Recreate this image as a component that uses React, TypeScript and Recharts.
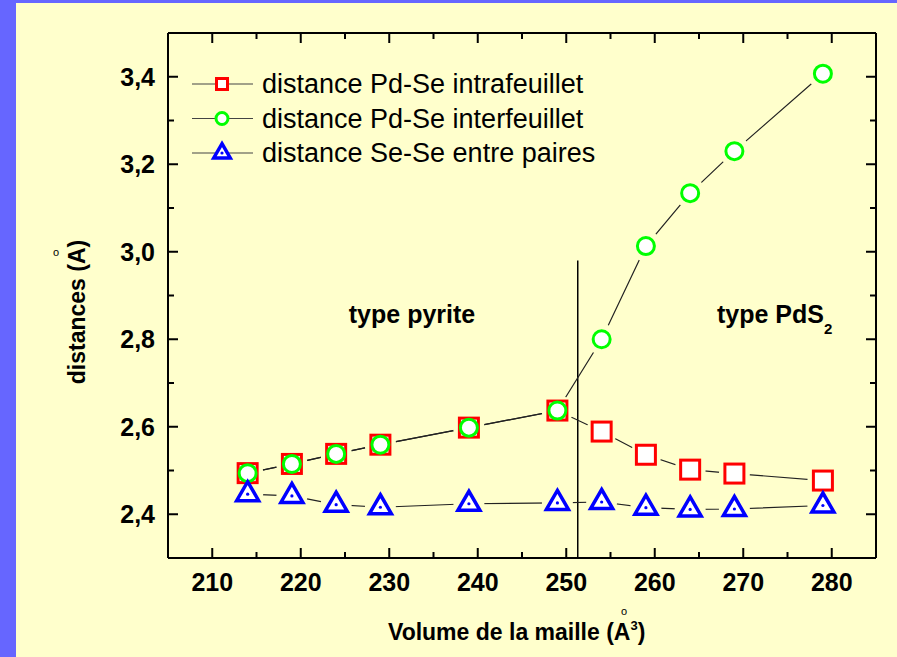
import { LineChart, Line, XAxis, YAxis, ReferenceLine, Legend } from "recharts";

const volume = [214, 219, 224, 229, 239, 249, 254, 259, 264, 269, 279];
const intraPdSe = [2.494, 2.515, 2.538, 2.559, 2.598, 2.637, 2.589, 2.536, 2.502, 2.493, 2.477];
const interPdSe = [2.494, 2.515, 2.538, 2.559, 2.598, 2.637, 2.8, 3.013, 3.134, 3.23, 3.407];
const seSePairs = [2.446, 2.442, 2.422, 2.416, 2.424, 2.426, 2.428, 2.415, 2.411, 2.412, 2.42];

const seriesNames = [
  "distance Pd-Se intrafeuillet",
  "distance Pd-Se interfeuillet",
  "distance Se-Se entre paires",
];

const xTicks = [205, 210, 215, 220, 225, 230, 235, 240, 245, 250, 255, 260, 265, 270, 275, 280, 285];
const xLabels = [210, 220, 230, 240, 250, 260, 270, 280];
const yTicks = [2.3, 2.4, 2.5, 2.6, 2.7, 2.8, 2.9, 3.0, 3.1, 3.2, 3.3, 3.4, 3.5];
const yLabels = [2.4, 2.6, 2.8, 3.0, 3.2, 3.4];

// phase boundary pyrite / PdS2
const boundaryVolume = 251.3;
const boundaryTop = 2.98;

const data = volume.map((v, i) => ({
  volume: v,
  intra: intraPdSe[i],
  inter: interPdSe[i],
  sese: seSePairs[i],
}));

const BG = "#FFFFCC";
const FONT = "'Liberation Sans', Arial, sans-serif";
const RED = "#FF0000";
const GREEN = "#00FF00";
const BLUE = "#0000FF";

const isMajorY = (v: number) => yLabels.some((l) => Math.abs(l - v) < 1e-6);
const fmtY = (v: number) => v.toFixed(1).replace(".", ",");

const BottomTick = (props: any) => {
  const { x, y, payload } = props;
  const major = xLabels.includes(payload.value);
  return (
    <g>
      <line x1={x} y1={y} x2={x} y2={y - (major ? 10 : 6)} stroke="#000" strokeWidth={2} />
      {major && (
        <text x={x} y={y + 33} textAnchor="middle" fontFamily={FONT} fontWeight="bold" fontSize={25} fill="#000">
          {payload.value}
        </text>
      )}
    </g>
  );
};

const TopTick = (props: any) => {
  const { x, y, payload } = props;
  const major = xLabels.includes(payload.value);
  return <line x1={x} y1={y} x2={x} y2={y + (major ? 10 : 6)} stroke="#000" strokeWidth={2} />;
};

const LeftTick = (props: any) => {
  const { x, y, payload } = props;
  const major = isMajorY(payload.value);
  return (
    <g>
      <line x1={x} y1={y} x2={x + (major ? 10 : 6)} y2={y} stroke="#000" strokeWidth={2} />
      {major && (
        <text x={x - 13} y={y + 9} textAnchor="end" fontFamily={FONT} fontWeight="bold" fontSize={25} fill="#000">
          {fmtY(payload.value)}
        </text>
      )}
    </g>
  );
};

const RightTick = (props: any) => {
  const { x, y, payload } = props;
  const major = isMajorY(payload.value);
  return <line x1={x} y1={y} x2={x - (major ? 10 : 6)} y2={y} stroke="#000" strokeWidth={2} />;
};

const Square = ({ cx, cy, s = 19 }: any) => (
  <rect x={cx - s / 2} y={cy - s / 2} width={s} height={s} fill="#fff" stroke={RED} strokeWidth={3} />
);
const Circle = ({ cx, cy, r = 8.5 }: any) => (
  <circle cx={cx} cy={cy} r={r} fill="#fff" stroke={GREEN} strokeWidth={3} />
);
const Triangle = ({ cx, cy, k = 1 }: any) => (
  <g>
    <path
      d={`M${cx},${cy - 12.5 * k} L${cx + 11 * k},${cy + 6.5 * k} L${cx - 11 * k},${cy + 6.5 * k} Z`}
      fill="#fff"
      stroke={BLUE}
      strokeWidth={3.5}
      strokeLinejoin="miter"
    />
    <circle cx={cx} cy={cy} r={1.6} fill={BLUE} />
  </g>
);

// background-coloured disc so the connecting line stops short of each symbol
const halo = (p: any) => <circle key={`h-${p.index}`} cx={p.cx} cy={p.cy} r={15.5} fill={BG} stroke="none" />;

const LegendBox = () => {
  const rows = [84, 118.5, 153];
  const markers = [
    (y: number) => <Square cx={42} cy={y} s={11} />,
    (y: number) => <Circle cx={42} cy={y} r={6} />,
    (y: number) => <Triangle cx={42} cy={y} k={0.75} />,
  ];
  return (
    <svg width={460} height={130} style={{ display: "block" }}>
      <g transform="translate(0,-50)">
        {seriesNames.map((name, i) => (
          <g key={name}>
            <line x1={12} x2={73} y1={rows[i]} y2={rows[i]} stroke="#444" strokeWidth={1.2} />
            {markers[i](rows[i])}
            <text x={82} y={rows[i] + 9} fontFamily={FONT} fontSize={27} fill="#000">
              {name}
            </text>
          </g>
        ))}
      </g>
    </svg>
  );
};

const axisProps = {
  type: "number" as const,
  allowDataOverflow: true,
  interval: 0 as const,
  tickSize: 0,
  tickMargin: 0,
  tickLine: false,
  axisLine: { stroke: "#000", strokeWidth: 2 },
};

export default function App() {
  return (
    <div style={{ position: "fixed", left: 0, top: 0, width: 897, height: 657, background: "#6666FF" }}>
      <div style={{ position: "absolute", left: 16, top: 3, right: 0, bottom: 0, background: BG }} />
      <div style={{ position: "absolute", left: 0, top: 0 }}>
        <LineChart width={897} height={657} data={data} margin={{ top: 32, right: 20, bottom: 59, left: 108 }}>
          <XAxis {...axisProps} dataKey="volume" domain={[205, 285]} ticks={xTicks} tick={<BottomTick />} height={40} />
          <XAxis
            {...axisProps}
            xAxisId="top"
            orientation="top"
            dataKey="volume"
            domain={[205, 285]}
            ticks={xTicks}
            tick={<TopTick />}
            height={1}
          />
          <YAxis {...axisProps} domain={[2.3, 3.5]} ticks={yTicks} tick={<LeftTick />} width={60} />
          <YAxis
            {...axisProps}
            yAxisId="right"
            orientation="right"
            domain={[2.3, 3.5]}
            ticks={yTicks}
            tick={<RightTick />}
            width={1}
          />
          <ReferenceLine
            segment={[
              { x: boundaryVolume, y: 2.3 },
              { x: boundaryVolume, y: boundaryTop },
            ]}
            stroke="#000"
            strokeWidth={1.5}
          />

          {/* keeps the top and right frame axes alive */}
          <Line
            xAxisId="top"
            yAxisId="right"
            dataKey="inter"
            stroke="none"
            dot={false}
            activeDot={false}
            legendType="none"
            isAnimationActive={false}
          />

          {/* connecting lines, with gaps round the symbols */}
          <Line dataKey="intra" type="linear" stroke="#222" strokeWidth={1.2} dot={halo} activeDot={false} legendType="none" isAnimationActive={false} />
          <Line dataKey="inter" type="linear" stroke="#222" strokeWidth={1.2} dot={halo} activeDot={false} legendType="none" isAnimationActive={false} />
          <Line dataKey="sese" type="linear" stroke="#222" strokeWidth={1.2} dot={halo} activeDot={false} legendType="none" isAnimationActive={false} />

          {/* symbols */}
          <Line
            dataKey="intra"
            name={seriesNames[0]}
            stroke="none"
            activeDot={false}
            dot={(p: any) => <Square key={`sq-${p.index}`} cx={p.cx} cy={p.cy} />}
            isAnimationActive={false}
          />
          <Line
            dataKey="inter"
            name={seriesNames[1]}
            stroke="none"
            activeDot={false}
            dot={(p: any) => <Circle key={`ci-${p.index}`} cx={p.cx} cy={p.cy} />}
            isAnimationActive={false}
          />
          <Line
            dataKey="sese"
            name={seriesNames[2]}
            stroke="none"
            activeDot={false}
            dot={(p: any) => <Triangle key={`tr-${p.index}`} cx={p.cx} cy={p.cy} />}
            isAnimationActive={false}
          />

          <Legend
            layout="vertical"
            align="center"
            verticalAlign="middle"
            content={() => <LegendBox />}
            wrapperStyle={{ position: "absolute", left: 180, top: 50, width: 460, height: 130 }}
          />
        </LineChart>
      </div>

      <svg width={897} height={657} style={{ position: "absolute", left: 0, top: 0, pointerEvents: "none" }}>
        <g fontFamily={FONT} fontWeight="bold" fill="#000">
          <text x={412} y={323} textAnchor="middle" fontSize={25}>type pyrite</text>
          <text x={717} y={323} fontSize={25}>
            type PdS<tspan fontSize={15} dy={11}>2</tspan>
          </text>

          <text x={388} y={640} fontSize={23}>
            Volume de la maille (A<tspan fontSize={13} dy={-10}>3</tspan>
            <tspan fontSize={23} dy={10}>)</tspan>
          </text>
          <text x={624} y={615} textAnchor="middle" fontSize={11} fontWeight="normal">o</text>

          <text transform="translate(85,312) rotate(-90)" textAnchor="middle" fontSize={23}>
            distances (A)
          </text>
          <text x={56} y={256} textAnchor="middle" fontSize={11} fontWeight="normal">o</text>
        </g>
      </svg>
    </div>
  );
}
